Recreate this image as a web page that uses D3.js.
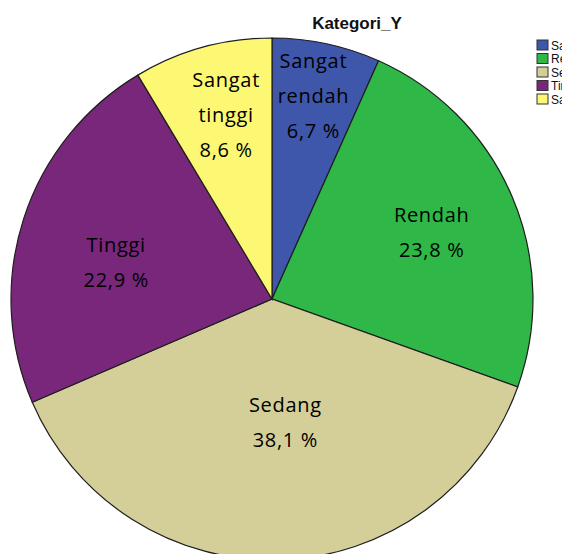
<!DOCTYPE html>
<html>
<head>
<meta charset="utf-8">
<script src="https://d3js.org/d3.v7.min.js"></script>
<style>
body { margin: 0; background: #fff; }
.slice { stroke: #1e1e1e; stroke-width: 1.2; }
.slice-label { font: 20px "Open Sans", sans-serif; letter-spacing: 0.7px; fill: #000; text-anchor: middle; }
.title { font: bold 17px "Liberation Sans", Arial, sans-serif; fill: #111; text-anchor: middle; }
.legend-label { font: 12px "Liberation Sans", Arial, sans-serif; fill: #111; }
</style>
</head>
<body>
<script>

// Kategori_Y - percentages per category
var categories = ["Sangat rendah", "Rendah", "Sedang", "Tinggi", "Sangat tinggi"];
var percents = [6.7, 23.8, 38.1, 22.9, 8.6];
var percentLabels = ["6,7 %", "23,8 %", "38,1 %", "22,9 %", "8,6 %"];
var colors = ["#3e57ab", "#2fb847", "#d4cf99", "#79277b", "#fcf873"];

var width = 562, height = 554;
var cx = 272, cy = 299, radius = 261;

var svg = d3.select("body").append("svg")
    .attr("width", width)
    .attr("height", height);

var data = categories.map(function(c, i) {
    return { name: c, value: percents[i], label: percentLabels[i], color: colors[i] };
});

var pie = d3.pie()
    .sort(null)
    .value(function(d) { return d.value });

var arc = d3.arc()
    .innerRadius(0)
    .outerRadius(radius);

var g = svg.append("g")
    .attr("transform", "translate(" + cx + "," + cy + ")");

var arcs = pie(data);

g.selectAll(".slice")
    .data(arcs)
  .enter().append("path")
    .attr("class", "slice")
    .attr("d", arc)
    .style("fill", function(d) { return d.data.color });

// label distance from centre and angle nudge (deg), SPSS-like placement
var labelR = [207, 173, 124, 160, 190];
var labelNudge = [-0.5, 0.5, -4.4, -4.7, 1.5];
var lineH = 35;

arcs.forEach(function(d, i) {
    var a = (d.startAngle + d.endAngle) / 2 + labelNudge[i] * Math.PI / 180;
    var x = Math.sin(a) * labelR[i],
        y = -Math.cos(a) * labelR[i];
    var words = d.data.name.split(" ");
    var lines = words.length > 1 ? words.concat([d.data.label]) : [d.data.name, d.data.label];
    var t = g.append("text")
        .attr("class", "slice-label")
        .attr("transform", "translate(" + x + "," + y + ")");
    lines.forEach(function(l, j) {
        t.append("tspan")
            .attr("x", 0)
            .attr("y", (j - (lines.length - 1) / 2) * lineH)
            .attr("dy", "0.35em")
            .text(l);
    });
});

svg.append("text")
    .attr("class", "title")
    .attr("x", 357)
    .attr("y", 29)
    .text("Kategori_Y");

// legend (runs off the right edge like the original)
var legend = svg.selectAll(".legend")
    .data(data)
  .enter().append("g")
    .attr("class", "legend")
    .attr("transform", function(d, i) { return "translate(537," + (40 + i * 13.5) + ")" });

legend.append("rect")
    .attr("width", 11)
    .attr("height", 10)
    .style("fill", function(d) { return d.color })
    .style("stroke", "#333")
    .style("stroke-width", 1);

legend.append("text")
    .attr("class", "legend-label")
    .attr("x", 14)
    .attr("y", 9.5)
    .text(function(d) { return d.name });

</script>
</body>
</html>
